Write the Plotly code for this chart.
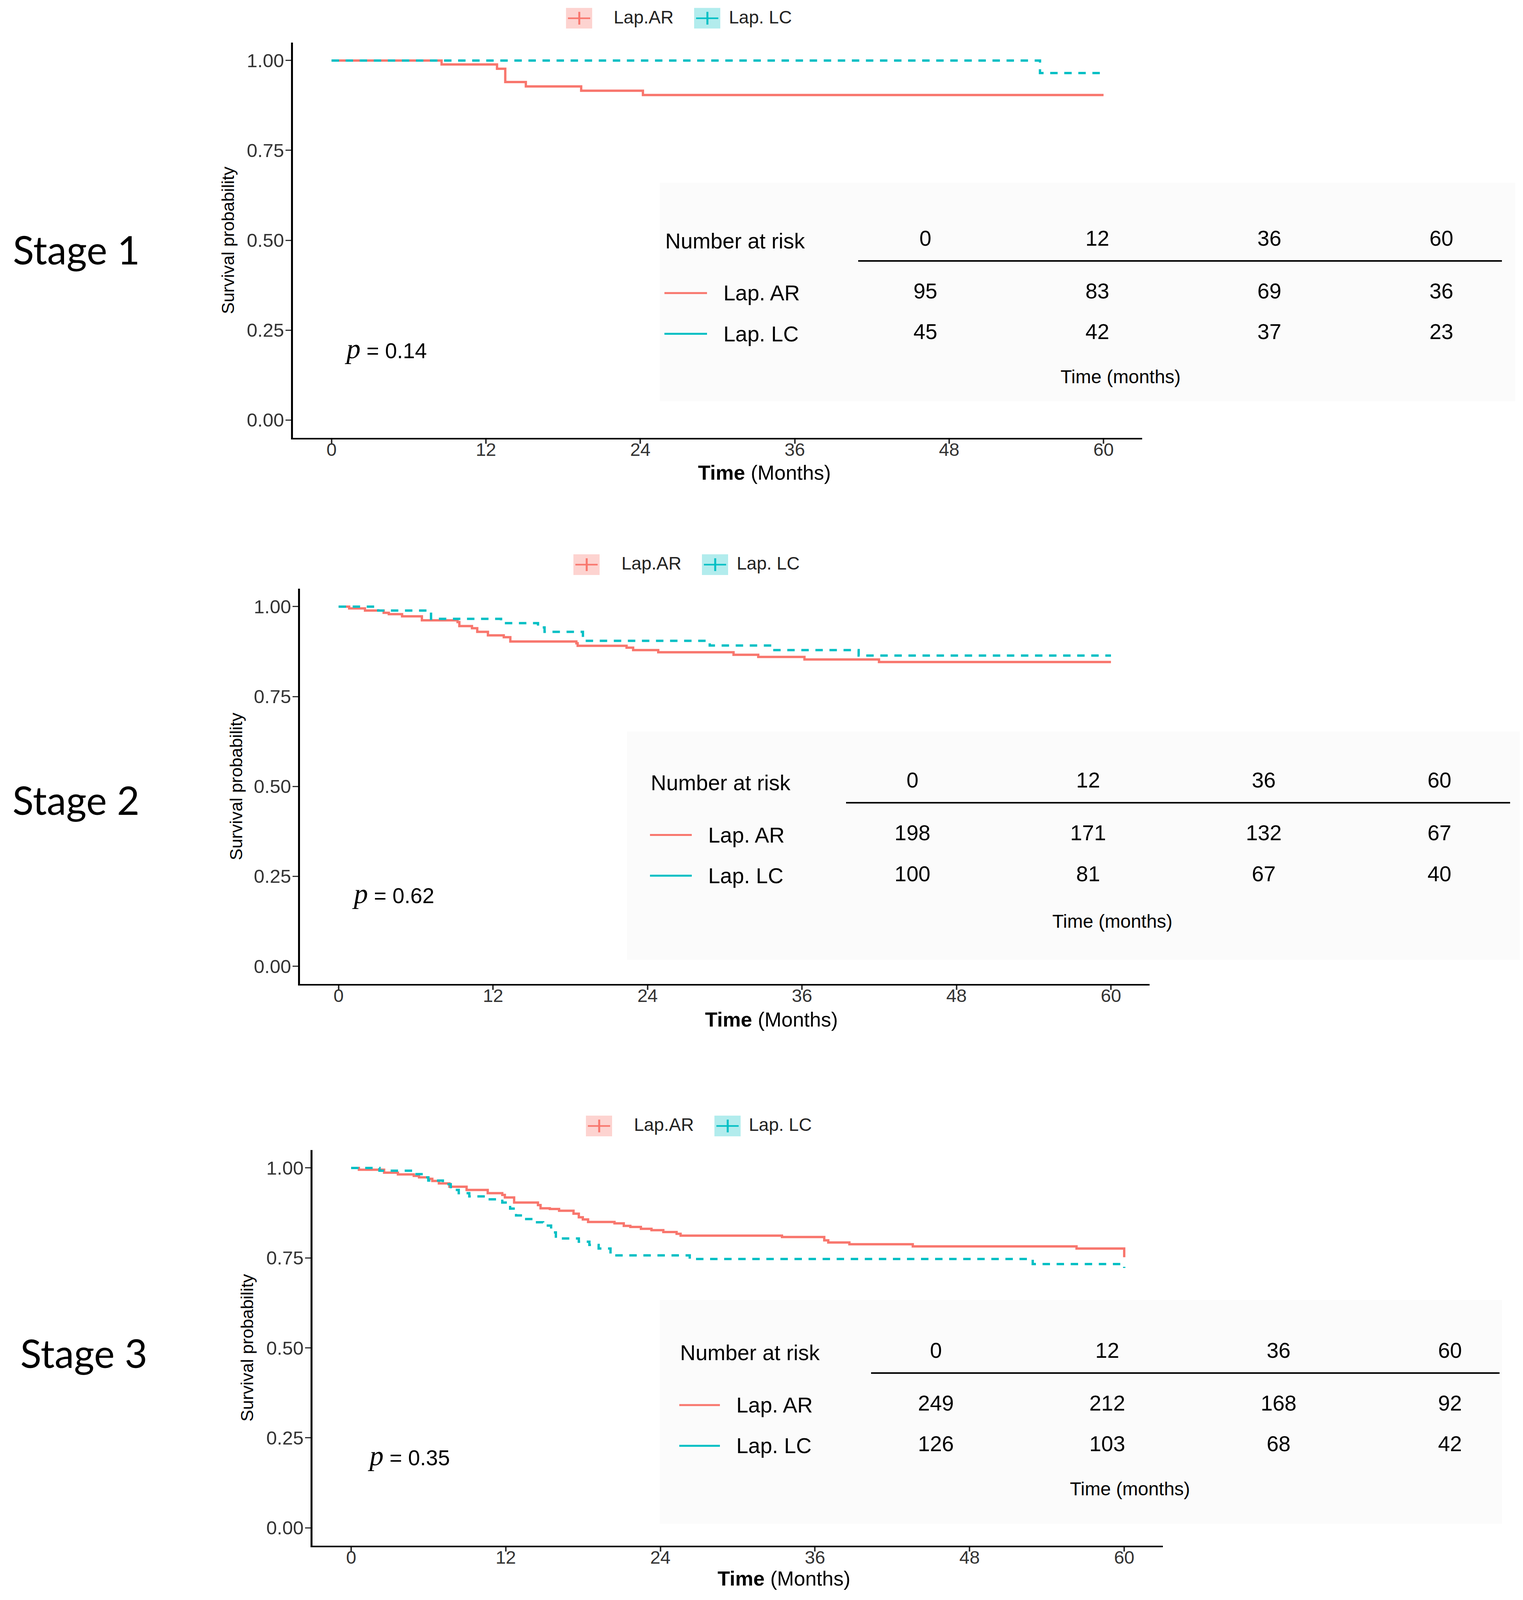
import plotly.graph_objects as go

# Kaplan-Meier style survival curves for three stages, with number-at-risk tables.
# The browser only photographs the top ~4080 px of the window, so the page is laid out
# on a canvas that fits there; positions below are measured on the 3899x5247 reference
# and mapped onto that canvas by fx / fy.
REF_W, REF_H = 3899, 5247
SHOT_H = 4080
PAD = 8
WF, HF = REF_W - 2 * PAD, SHOT_H - 2 * PAD
SY = SHOT_H / REF_H

AR_COLOR = "#F8766D"
LC_COLOR = "#00BFC4"
AR_FILL = "rgba(248,118,109,0.32)"
LC_FILL = "rgba(0,191,196,0.30)"

SANS = "Liberation Sans, Arial, sans-serif"
STAGE_FONT = "Lato, Open Sans, sans-serif"

# --- data (months, survival probability) ---
stage1_ar_time = [0, 8.55, 12.86, 13.5, 15.1, 19.4, 24.2, 60]
stage1_ar_surv = [1.0, 0.989, 0.977, 0.940, 0.928, 0.916, 0.904, 0.904]
stage1_lc_time = [0, 55.06, 60]
stage1_lc_surv = [1.0, 0.965, 0.965]

stage2_ar_time = [0, 0.82, 2.05, 3.5, 3.9, 4.93, 6.47, 9.24, 9.38, 10.36, 10.77, 11.6,
                  12.83, 13.34, 18.47, 18.57, 22.37, 22.88, 24.83, 30.68, 32.6, 36.19,
                  41.98, 60]
stage2_ar_surv = [1.0, 0.995, 0.989, 0.983, 0.979, 0.973, 0.962, 0.957, 0.946, 0.940,
                  0.930, 0.920, 0.915, 0.903, 0.898, 0.891, 0.886, 0.879, 0.873, 0.866,
                  0.860, 0.853, 0.846, 0.846]
stage2_lc_time = [0, 3.08, 7.18, 12.62, 15.49, 16.0, 18.98, 28.83, 33.73, 40.4, 60]
stage2_lc_surv = [1.0, 0.989, 0.966, 0.954, 0.942, 0.930, 0.905, 0.892, 0.879, 0.864, 0.864]

stage3_ar_time = [0, 0.6, 2.56, 3.63, 4.86, 5.27, 5.99, 6.3, 6.81, 7.63, 8.96, 10.6,
                  11.73, 11.93, 12.65, 14.5, 14.7, 15.42, 16.14, 17.26, 17.67, 17.98,
                  18.39, 20.44, 21.16, 21.67, 22.49, 23.31, 24.23, 25.26, 25.57, 33.44,
                  36.72, 37.03, 38.67, 43.59, 56.3, 60]
stage3_ar_surv = [1.0, 0.995, 0.987, 0.982, 0.978, 0.974, 0.970, 0.964, 0.957, 0.948,
                  0.939, 0.930, 0.925, 0.918, 0.904, 0.897, 0.888, 0.886, 0.881, 0.873,
                  0.863, 0.857, 0.850, 0.846, 0.839, 0.836, 0.831, 0.827, 0.822, 0.817,
                  0.812, 0.808, 0.799, 0.793, 0.788, 0.782, 0.776, 0.752]
stage3_lc_time = [0, 2.2, 4.86, 5.68, 5.99, 7.12, 7.73, 8.35, 9.17, 10.4, 11.73, 12.34,
                  12.8, 13.47, 14.19, 14.9, 15.52, 15.89, 17.67, 18.49, 19.21, 20.13,
                  26.28, 52.9, 60]
stage3_lc_surv = [1.0, 0.9925, 0.983, 0.974, 0.965, 0.955, 0.939, 0.930, 0.921, 0.913,
                  0.904, 0.887, 0.868, 0.858, 0.849, 0.840, 0.821, 0.804, 0.795, 0.786,
                  0.776, 0.757, 0.747, 0.733, 0.722]

risk_times = [0, 12, 36, 60]
stage1_risk_ar = [95, 83, 69, 36]
stage1_risk_lc = [45, 42, 37, 23]
stage2_risk_ar = [198, 171, 132, 67]
stage2_risk_lc = [100, 81, 67, 40]
stage3_risk_ar = [249, 212, 168, 92]
stage3_risk_lc = [126, 103, 68, 42]

stage_names = ["Stage 1", "Stage 2", "Stage 3"]
p_values = ["0.14", "0.62", "0.35"]
legend_labels = ["Lap.AR", "Lap. LC"]
row_labels = ["Lap. AR", "Lap. LC"]
x_ticks = [0, 12, 24, 36, 48, 60]
y_ticks = [0, 0.25, 0.5, 0.75, 1.0]

curves = [
    (stage1_ar_time, stage1_ar_surv, stage1_lc_time, stage1_lc_surv),
    (stage2_ar_time, stage2_ar_surv, stage2_lc_time, stage2_lc_surv),
    (stage3_ar_time, stage3_ar_surv, stage3_lc_time, stage3_lc_surv),
]
risks = [
    (stage1_risk_ar, stage1_risk_lc),
    (stage2_risk_ar, stage2_risk_lc),
    (stage3_risk_ar, stage3_risk_lc),
]

# --- page geometry in reference pixels (layout only) ---
panels = [
    dict(l=750, r=2924, t=140, b=1442, xt=(1957, 1556), yt=(583, 791), stage=(31, 820),
         p=(880, 1148), leg_box=1449, leg_cy=60, leg_ar=1569, leg_lc_box=1777, leg_lc=1864,
         tab_l=2197, tab_r=3845, tab_y=862, col0=2369, col3=3690, nar=1701, seg=(1701, 1810),
         row_lab=1850, tm=(2869, 1240), bg=(1689, 3879, 602, 1321)),
    dict(l=768, r=2943, t=1938, b=3240, xt=(1975, 3356), yt=(604, 2589), stage=(30, 2632),
         p=(899, 2943), leg_box=1468, leg_cy=1859, leg_ar=1589, leg_lc_box=1797, leg_lc=1884,
         tab_l=2166, tab_r=3866, tab_y=2646, col0=2336, col3=3685, nar=1664, seg=(1664, 1771),
         row_lab=1811, tm=(2848, 3033), bg=(1605, 3896, 2408, 3160)),
    dict(l=800, r=2977, t=3786, b=5089, xt=(2007, 5197), yt=(632, 4437), stage=(50, 4454),
         p=(939, 4793), leg_box=1500, leg_cy=3707, leg_ar=1621, leg_lc_box=1829, leg_lc=1915,
         tab_l=2230, tab_r=3839, tab_y=4523, col0=2396, col3=3712, nar=1739, seg=(1739, 1843),
         row_lab=1883, tm=(2893, 4902), bg=(1689, 3845, 4280, 5016)),
]


def fx(v):
    return (v - PAD) / WF


def fy(v):
    return 1 - (v * SY - PAD) / HF


def note(text, x, y, size, xanchor="left", family=SANS, color="black", **kw):
    return dict(text=text, x=x, y=y, xref=kw.pop("xref", "paper"), yref=kw.pop("yref", "paper"),
                showarrow=False, xanchor=xanchor, yanchor="middle",
                font=dict(family=family, size=size, color=color), **kw)


fig = go.Figure()
layout = dict(
    width=WF, height=HF, margin=dict(l=0, r=0, t=0, b=0),
    paper_bgcolor="white", plot_bgcolor="rgba(0,0,0,0)", showlegend=False,
)
shapes = []
annotations = []

for i, g in enumerate(panels):
    n = i + 1
    m = i + 4
    xa, ya = ("x" if n == 1 else f"x{n}"), ("y" if n == 1 else f"y{n}")
    xk, yk = ("xaxis" if n == 1 else f"xaxis{n}"), ("yaxis" if n == 1 else f"yaxis{n}")

    # faint backdrop of the pasted risk table
    bx0, bx1, by0, by1 = g["bg"]
    shapes.append(dict(type="rect", xref="paper", yref="paper", x0=fx(bx0), x1=fx(bx1),
                       y0=fy(by1), y1=fy(by0), fillcolor="#fbfbfb", line=dict(width=0),
                       layer="below"))

    ar_t, ar_s, lc_t, lc_s = curves[i]
    fig.add_trace(go.Scatter(x=ar_t, y=ar_s, mode="lines", xaxis=xa, yaxis=ya,
                             line=dict(shape="hv", color=AR_COLOR, width=6),
                             name=legend_labels[0]))
    fig.add_trace(go.Scatter(x=lc_t, y=lc_s, mode="lines", xaxis=xa, yaxis=ya,
                             line=dict(shape="hv", color=LC_COLOR, width=6, dash="19px,17px"),
                             name=legend_labels[1]))

    layout[xk] = dict(domain=[fx(g["l"]), fx(g["r"])], anchor=ya, range=[-3, 63],
                      tickvals=x_ticks, showline=True, linecolor="black", linewidth=4,
                      ticks="outside", ticklen=11, tickwidth=4, tickcolor="#333333",
                      showgrid=False, zeroline=False, ticklabelstandoff=-26,
                      tickfont=dict(family=SANS, size=47, color="#333333"))
    layout[yk] = dict(domain=[fy(g["b"]), fy(g["t"])], anchor=xa, range=[-0.05, 1.05],
                      tickvals=y_ticks, tickformat=".2f", showline=True, linecolor="black",
                      linewidth=5, ticks="outside", ticklen=14, tickwidth=3,
                      tickcolor="#333333", showgrid=False, zeroline=False,
                      ticklabelstandoff=-6,
                      tickfont=dict(family=SANS, size=49, color="#333333"))

    # axis titles, stage label, p value
    annotations.append(note("<b>Time</b> (Months)", fx(g["xt"][0]), fy(g["xt"][1]), 52,
                            xanchor="center"))
    annotations.append(note("Survival probability", fx(g["yt"][0]), fy(g["yt"][1]), 45,
                            xanchor="center", textangle=-90))
    annotations.append(note(stage_names[i], fx(g["stage"][0]), fy(g["stage"][1]), 100,
                            family=STAGE_FONT))
    annotations.append(note(
        '<span style="font-family:Liberation Serif;font-style:italic;font-size:72px">p</span>'
        f" = {p_values[i]}", fx(g["p"][0]), fy(g["p"][1]), 55))

    # legend at the top of the panel: pale box with a cross, then the label
    cy = g["leg_cy"]
    for box_l, fill, col, lab_l, lab in [
        (g["leg_box"], AR_FILL, AR_COLOR, g["leg_ar"], legend_labels[0]),
        (g["leg_lc_box"], LC_FILL, LC_COLOR, g["leg_lc"], legend_labels[1]),
    ]:
        shapes.append(dict(type="rect", xref="paper", yref="paper", x0=fx(box_l),
                           x1=fx(box_l + 67), y0=fy(cy + 34), y1=fy(cy - 34),
                           fillcolor=fill, line=dict(width=0)))
        shapes.append(dict(type="line", xref="paper", yref="paper", x0=fx(box_l + 5),
                           x1=fx(box_l + 62), y0=fy(cy), y1=fy(cy),
                           line=dict(color=col, width=4)))
        shapes.append(dict(type="line", xref="paper", yref="paper", x0=fx(box_l + 34),
                           x1=fx(box_l + 34), y0=fy(cy - 21), y1=fy(cy + 21),
                           line=dict(color=col, width=5)))
        annotations.append(note(lab, fx(lab_l), fy(cy - 4), 46, color="#222222"))

    # number-at-risk table on its own hidden category axes
    txa, tya = f"x{m}", f"y{m}"
    step = (g["col3"] - g["col0"]) / 3
    ty = g["tab_y"]
    row_step = 134
    layout[f"xaxis{m}"] = dict(
        domain=[fx(g["tab_l"]), fx(g["tab_r"])], anchor=tya, side="top", type="category",
        categoryorder="array", categoryarray=[str(t) for t in risk_times],
        range=[-(g["col0"] - g["tab_l"]) / step, 3 + (g["tab_r"] - g["col3"]) / step],
        showline=True, linecolor="black", linewidth=4, ticks="", showgrid=False,
        zeroline=False, ticklabelstandoff=15,
        tickfont=dict(family=SANS, size=55, color="black"))
    layout[f"yaxis{m}"] = dict(
        domain=[fy(ty + 440), fy(ty)], anchor=txa, type="category",
        categoryorder="array", categoryarray=row_labels,
        range=[1 + (440 - 237) / row_step, -103 / row_step],
        visible=False, showgrid=False, zeroline=False)

    r_ar, r_lc = risks[i]
    fig.add_trace(go.Scatter(
        x=[str(t) for t in risk_times] * 2,
        y=[row_labels[0]] * len(risk_times) + [row_labels[1]] * len(risk_times),
        text=[str(v) for v in r_ar] + [str(v) for v in r_lc],
        mode="text", xaxis=txa, yaxis=tya, cliponaxis=False,
        textfont=dict(family=SANS, size=55, color="black"), hoverinfo="skip"))

    for k, col in enumerate([AR_COLOR, LC_COLOR]):
        shapes.append(dict(type="line", xref="paper", yref=tya, x0=fx(g["seg"][0]),
                           x1=fx(g["seg"][1]), y0=k, y1=k, line=dict(color=col, width=5)))
        annotations.append(note(row_labels[k], fx(g["row_lab"]), k, 55, yref=tya))

    annotations.append(note("Number at risk", fx(g["nar"]), fy(ty - 69), 55))
    annotations.append(note("Time (months)", fx(g["tm"][0]), fy(g["tm"][1]), 48,
                            xanchor="center"))

layout["shapes"] = shapes
layout["annotations"] = annotations
fig.update_layout(**layout)

fig.write_html("out.html")
